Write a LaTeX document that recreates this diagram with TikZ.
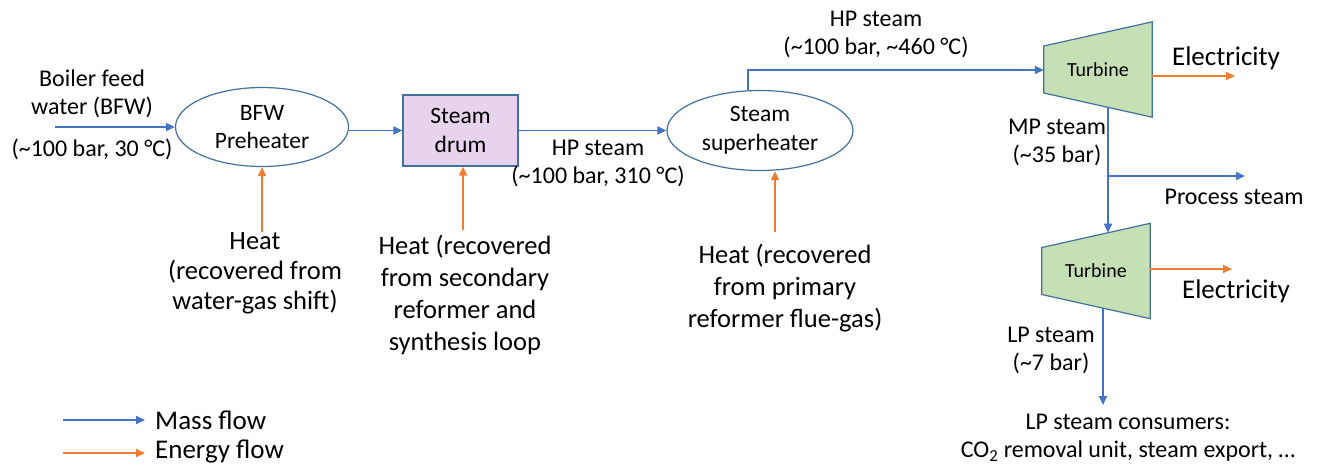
\documentclass[tikz,border=0pt]{standalone}
\usepackage{fontspec}
\setmainfont{Carlito}
\usetikzlibrary{arrows.meta,shapes.geometric,backgrounds,calc}
\definecolor{massc}{HTML}{4472C4}
\definecolor{enc}{HTML}{ED7D31}
\definecolor{edgec}{HTML}{41719C}
\definecolor{drumfill}{HTML}{E8D3EE}
\definecolor{turbfill}{HTML}{C5E0B4}
\begin{document}
\begin{tikzpicture}[x=1pt,y=-1pt,
  mass/.style={draw=massc, line width=1.8pt, -{Triangle[length=9pt,width=8pt]}},
  energy/.style={draw=enc, line width=1.8pt, -{Triangle[length=9pt,width=8pt]}},
  lbl/.style={align=center, inner sep=0pt, font=\fontsize{24}{28}\selectfont},
  heatlbl/.style={align=center, inner sep=0pt, font=\fontsize{26.5}{32}\selectfont},
  bigl/.style={inner sep=0pt, font=\fontsize{27}{32}\selectfont},
  unit/.style={draw=edgec, line width=1.2pt, align=center, inner sep=0pt, font=\fontsize{23.5}{28.5}\selectfont},
  tbox/.style={minimum width=108pt, minimum height=95pt, inner sep=0pt, font=\fontsize{20}{24}\selectfont},
  tshape/.style={fill=turbfill, draw=edgec, line width=1.2pt}]
\useasboundingbox (0,0) rectangle (1317,467);

% inlet
\node[lbl] (bfwlbl) at (92,94) {Boiler feed\\water (BFW)};
\node[lbl] (bfwcond) at (92,149) {(\textasciitilde100 bar, 30 °C)};
\node[unit, ellipse, minimum width=173pt, minimum height=79pt] (pre) at (262,127) {BFW\\Preheater};
\coordinate (bfwin) at (55,127);
\draw[mass] (bfwin) -- (bfwin -| pre.west);

% drum
\node[unit, rectangle, fill=drumfill, minimum width=115pt, minimum height=71pt] (drum) at (460.5,130.5) {Steam\\drum};
\draw[mass] (pre.east |- drum.west) -- (drum.west);

% superheater
\node[unit, ellipse, minimum width=186pt, minimum height=80pt] (shx) at (760,130.5) {Steam\\superheater};
\draw[mass] (drum.east) -- (shx.west);
\node[lbl] (hp1) at (598,163) {HP steam\\(\textasciitilde100 bar, 310 °C)};

% turbine 1
\node[tbox] (t1) at (1098,69.5) {Turbine};
\begin{pgfonlayer}{background}
\draw[tshape] ($(t1.west)+(0,-23.5)$) -- (t1.north east) -- (t1.south east) -- ($(t1.west)+(0,23.5)$) -- cycle;
\end{pgfonlayer}
\coordinate (hpup) at (748,70);
\draw[mass] (shx.north -| hpup) -- (hpup) -- (hpup -| t1.west);
\node[lbl] (hp2) at (876,34) {HP steam\\(\textasciitilde100 bar, \textasciitilde460 °C)};

\coordinate (el1) at (1235,76);
\draw[energy] (el1 -| t1.east) -- (el1);
\node[bigl] (elec1) at (1226,58) {Electricity};

% turbine 2
\node[tbox] (t2) at (1096,271) {Turbine};
\begin{pgfonlayer}{background}
\draw[tshape] ($(t2.west)+(0,-23.5)$) -- (t2.north east) -- (t2.south east) -- ($(t2.west)+(0,23.5)$) -- cycle;
\end{pgfonlayer}
\coordinate (t1b) at (1108,106.8);
\coordinate (t2t) at (1108,232.7);
\draw[mass] (t1b) -- (t2t);
\coordinate (br) at (1108,176);
\coordinate (ps) at (1245,176);
\draw[mass] (br) -- (ps);
\node[lbl] (pslbl) at (1234,197) {Process steam};
\node[lbl] (mplbl) at (1057,142) {MP steam\\(\textasciitilde35 bar)};

\coordinate (el2) at (1232,269);
\draw[energy] (el2 -| t2.east) -- (el2);
\node[bigl] (elec2) at (1236,291) {Electricity};

\coordinate (t2b) at (1103,308);
\coordinate (lpend) at (1103,405);
\draw[mass] (t2b) -- (lpend);
\node[lbl] (lplbl) at (1051,350) {LP steam\\(\textasciitilde7 bar)};
\node[lbl] (cons) at (1128,438) {LP steam consumers:\\CO\textsubscript{2} removal unit, steam export, …};

% heat inputs
\node[heatlbl, font=\fontsize{26.5}{30}\selectfont] (heat1) at (255,273) {Heat\\(recovered from\\water-gas shift)};
\node[heatlbl] (heat2) at (465,294.5) {Heat (recovered\\from secondary\\reformer and\\synthesis loop};
\node[heatlbl] (heat3) at (785,288.5) {Heat (recovered\\from primary\\reformer flue-gas)};
\coordinate (h1) at (262,232);
\coordinate (h2) at (463,230);
\coordinate (h3) at (775,232);
\draw[energy] (h1) -- (h1 |- pre.south);
\draw[energy] (h2) -- (h2 |- drum.south);
\draw[energy] (h3) -- (h3 |- shx.south);

% legend
\coordinate (lm1) at (63,420);
\coordinate (lm2) at (145,420);
\coordinate (le1) at (63,453);
\coordinate (le2) at (145,453);
\draw[mass] (lm1) -- (lm2);
\draw[energy] (le1) -- (le2);
\node[bigl, anchor=west] (lmt) at (155,420) {Mass flow};
\node[bigl, anchor=west] (let) at (155,452) {Energy flow};
\end{tikzpicture}
\end{document}
